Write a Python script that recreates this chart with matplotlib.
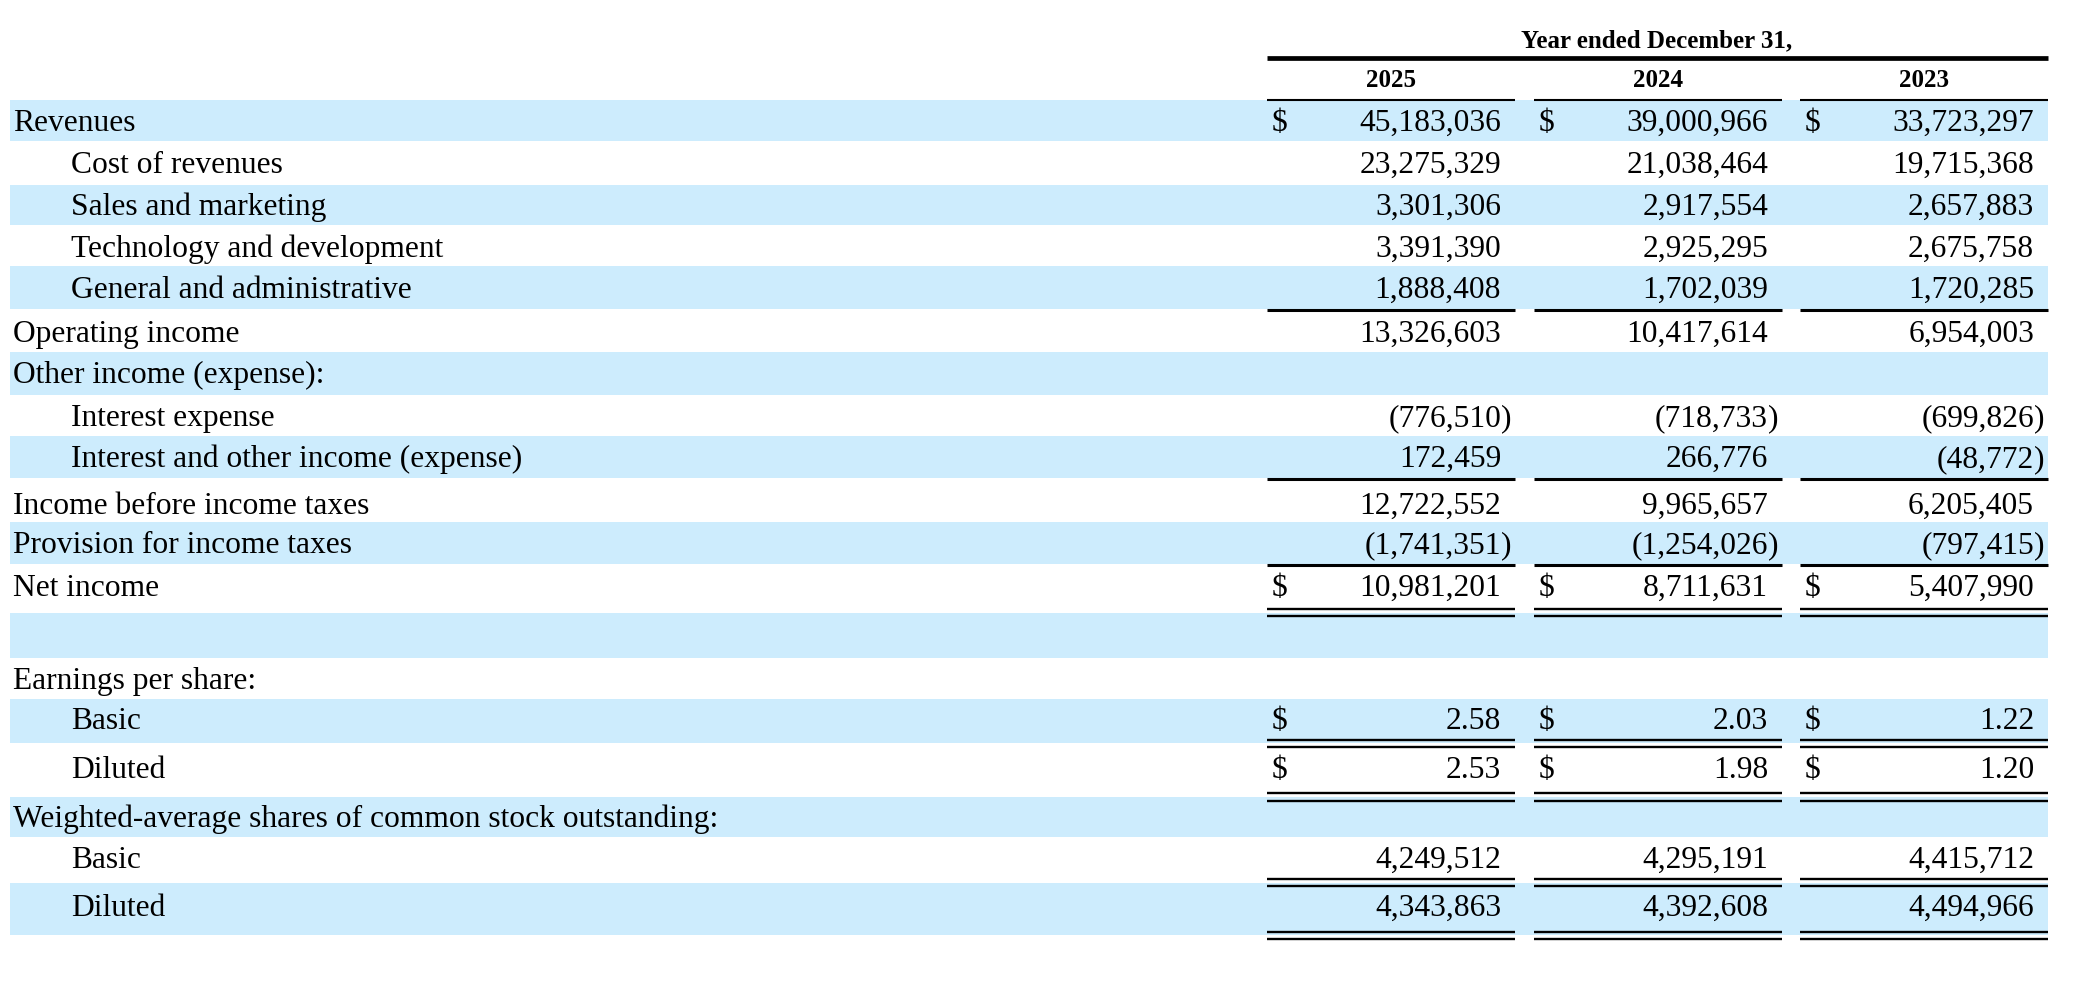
import matplotlib
matplotlib.use('Agg')
import matplotlib.pyplot as plt
from matplotlib.patches import Rectangle

plt.rcParams['font.family'] = ['Liberation Serif', 'DejaVu Serif']

# ---- data ----
years = ['2025', '2024', '2023']
labels = ['Revenues', 'Cost of revenues', 'Sales and marketing',
          'Technology and development', 'General and administrative',
          'Operating income', 'Other income (expense):', 'Interest expense',
          'Interest and other income (expense)', 'Income before income taxes',
          'Provision for income taxes', 'Net income', '',
          'Earnings per share:', 'Basic', 'Diluted',
          'Weighted-average shares of common stock outstanding:',
          'Basic', 'Diluted']
indent = [0, 1, 1, 1, 1, 0, 0, 1, 1, 0, 0, 0, 0, 0, 1, 1, 0, 1, 1]

vals_2025 = [45183036, 23275329, 3301306, 3391390, 1888408, 13326603, None,
             -776510, 172459, 12722552, -1741351, 10981201, None, None,
             2.58, 2.53, None, 4249512, 4343863]
vals_2024 = [39000966, 21038464, 2917554, 2925295, 1702039, 10417614, None,
             -718733, 266776, 9965657, -1254026, 8711631, None, None,
             2.03, 1.98, None, 4295191, 4392608]
vals_2023 = [33723297, 19715368, 2657883, 2675758, 1720285, 6954003, None,
             -699826, -48772, 6205405, -797415, 5407990, None, None,
             1.22, 1.20, None, 4415712, 4494966]
columns = [vals_2025, vals_2024, vals_2023]

dollar_rows = [0, 11, 14, 15]
eps_rows = [14, 15]
single_rule = [4, 8, 10]
double_rule = [11, 14, 15, 17, 18]

# ---- layout (pixels) ----
row_top = [100, 141, 185, 225, 266, 309, 352, 395, 436, 478, 522, 564,
           613, 658, 699, 743, 797, 837, 883, 935]
baseline = [131, 173, 215, 257, 298, 342, 383, 426, 467, 514, 553, 596,
            None, 689, 729, 778, 827, 868, 916]
single_y = {4: 310.5, 8: 479, 10: 565}
double_y = {11: (609, 615.5), 14: (740, 747), 15: (793, 800.5),
            17: (879, 886), 18: (932, 939)}
col_x = [1267, 1534, 1800]
col_w = 248
band = '#cdecfd'
fs = 22.7

fig = plt.figure(figsize=(20.86, 9.88), dpi=100)
ax = fig.add_axes([0, 0, 1, 1])
ax.set_xlim(0, 2086)
ax.set_ylim(988, 0)
ax.axis('off')

# shaded rows
for i in range(len(labels)):
    if i % 2 == 0:
        ax.add_patch(Rectangle((10, row_top[i]), 2048 - 10,
                               row_top[i + 1] - row_top[i],
                               color=band, lw=0, zorder=0))

# header
ax.text(1657, 47, 'Year ended December 31,', ha='center', va='baseline',
        fontsize=18, fontweight='bold')
ax.plot([col_x[0], col_x[2] + col_w], [58.5, 58.5], color='black', lw=3.4,
        solid_capstyle='butt')
for cx, yr in zip(col_x, years):
    ax.text(cx + col_w / 2, 87, yr, ha='center', va='baseline',
            fontsize=18, fontweight='bold')
    ax.plot([cx, cx + col_w], [100, 100], color='black', lw=1.5,
            solid_capstyle='butt')


def fmt(v, eps):
    if eps:
        return '%.2f' % abs(v)
    return '{:,}'.format(abs(v))


for i, lab in enumerate(labels):
    if baseline[i] is None:
        continue
    ax.text(13 + 58 * indent[i], baseline[i], lab, ha='left',
            va='baseline', fontsize=fs)
    for cx, vals in zip(col_x, columns):
        v = vals[i]
        right = cx + col_w - 14
        if v is not None:
            s = fmt(v, i in eps_rows)
            if v < 0:
                ax.text(right, baseline[i], '(' + s, ha='right',
                        va='baseline', fontsize=fs)
                ax.text(right, baseline[i], ')', ha='left',
                        va='baseline', fontsize=fs)
            else:
                ax.text(right, baseline[i], s, ha='right',
                        va='baseline', fontsize=fs)
        if i in dollar_rows:
            ax.text(cx + 5, baseline[i], '$', ha='left', va='baseline',
                    fontsize=fs)

# rules under columns
for cx in col_x:
    for r in single_rule:
        ax.plot([cx, cx + col_w], [single_y[r]] * 2, color='black', lw=2.2,
                solid_capstyle='butt')
    for r in double_rule:
        for y in double_y[r]:
            ax.plot([cx, cx + col_w], [y, y], color='black', lw=1.7,
                    solid_capstyle='butt')

fig.savefig('out.png', dpi=100)
